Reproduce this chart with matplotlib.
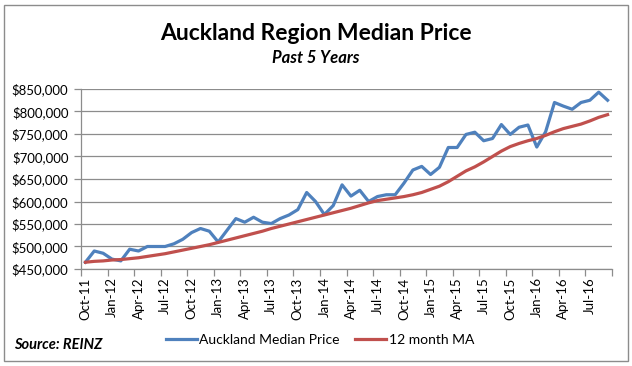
import matplotlib.pyplot as plt
from matplotlib.patches import Rectangle
from matplotlib.ticker import FuncFormatter

plt.rcParams['font.family'] = ['Lato', 'DejaVu Sans']

# monthly data Oct-11 .. Sep-16 (thousands of $)
months = ['Oct-11', 'Nov-11', 'Dec-11', 'Jan-12', 'Feb-12', 'Mar-12', 'Apr-12', 'May-12', 'Jun-12',
          'Jul-12', 'Aug-12', 'Sep-12', 'Oct-12', 'Nov-12', 'Dec-12', 'Jan-13', 'Feb-13', 'Mar-13',
          'Apr-13', 'May-13', 'Jun-13', 'Jul-13', 'Aug-13', 'Sep-13', 'Oct-13', 'Nov-13', 'Dec-13',
          'Jan-14', 'Feb-14', 'Mar-14', 'Apr-14', 'May-14', 'Jun-14', 'Jul-14', 'Aug-14', 'Sep-14',
          'Oct-14', 'Nov-14', 'Dec-14', 'Jan-15', 'Feb-15', 'Mar-15', 'Apr-15', 'May-15', 'Jun-15',
          'Jul-15', 'Aug-15', 'Sep-15', 'Oct-15', 'Nov-15', 'Dec-15', 'Jan-16', 'Feb-16', 'Mar-16',
          'Apr-16', 'May-16', 'Jun-16', 'Jul-16', 'Aug-16', 'Sep-16']

median_price = [465, 490, 485, 472, 468, 494, 490, 500, 500, 500, 506, 516,
                531, 540, 534, 510, 536, 562, 554, 565, 554, 551, 562, 570,
                582, 620, 600, 571, 591, 637, 612, 625, 600, 611, 615, 615,
                641, 670, 678, 660, 676, 720, 720, 749, 754, 735, 740, 771,
                749, 765, 770, 721, 755, 820, 812, 805, 820, 825, 843, 825]

ma12 = [465, 467, 468, 470, 471, 473, 475, 478, 481, 484, 488, 492,
        496, 500, 504, 509, 514, 519, 524, 529, 534, 540, 545, 550,
        555, 560, 565, 570, 575, 580, 585, 591, 597, 602, 605, 608,
        611, 615, 620, 627, 634, 644, 656, 668, 677, 688, 700, 712,
        722, 729, 735, 740, 747, 755, 762, 767, 772, 779, 787, 793]

x = list(range(len(months)))
blue = '#4F81BD'
red = '#C0504D'
grid_c = '#8C8C8C'

fig = plt.figure(figsize=(6.32, 3.66), dpi=100)
ax = fig.add_axes([81/632, 1 - 269/366, (612 - 81)/632, (269 - 89)/366])

ax.plot(x, [v * 1000 for v in median_price], color=blue, lw=2.3, label='Auckland Median Price')
ax.plot(x, [v * 1000 for v in ma12], color=red, lw=2.3, label='12 month MA')

ax.set_xlim(-0.5, len(months) - 0.5)
ax.set_ylim(450000, 850000)
ax.set_yticks(range(450000, 850001, 50000))
ax.yaxis.set_major_formatter(FuncFormatter(lambda v, p: '${:,.0f}'.format(v)))
ax.grid(axis='y', color=grid_c, lw=0.9)
ax.set_axisbelow(True)

ax.set_xticks(x[::3])
ax.set_xticklabels(months[::3], rotation=90)
ax.set_xticks([i - 0.5 for i in range(0, len(months) + 1, 3)], minor=True)
ax.tick_params(axis='x', which='major', length=0, pad=6, labelsize=9.5, colors='#000000')
ax.tick_params(axis='x', which='minor', length=5, color=grid_c, width=0.9)
ax.tick_params(axis='y', length=5, color=grid_c, width=0.9, labelsize=9.5, pad=4)

for s in ['top', 'right']:
    ax.spines[s].set_visible(False)
for s in ['left', 'bottom']:
    ax.spines[s].set_color(grid_c)
    ax.spines[s].set_linewidth(0.9)

fig.text(0.5, 1 - 33/366, 'Auckland Region Median Price', ha='center', va='center',
         fontsize=16.5, fontweight='bold')
fig.text(0.5, 1 - 58/366, 'Past 5 Years', ha='center', va='center',
         fontsize=12, fontweight='bold', style='italic')
fig.text(14/632, 1 - 345/366, 'Source: REINZ', ha='left', va='center',
         fontsize=10.5, fontweight='bold', style='italic')

fig.legend(loc='center', bbox_to_anchor=(320/632, 1 - 340/366), ncol=2, frameon=False,
           fontsize=10, handlelength=2.2, handletextpad=0.2, columnspacing=1.1)

fig.patches.append(Rectangle((4/632, 1 - 361/366), 624/632, 356/366, transform=fig.transFigure,
                             fill=False, edgecolor='#8C8C8C', lw=1))

fig.savefig('out.png', dpi=100)
